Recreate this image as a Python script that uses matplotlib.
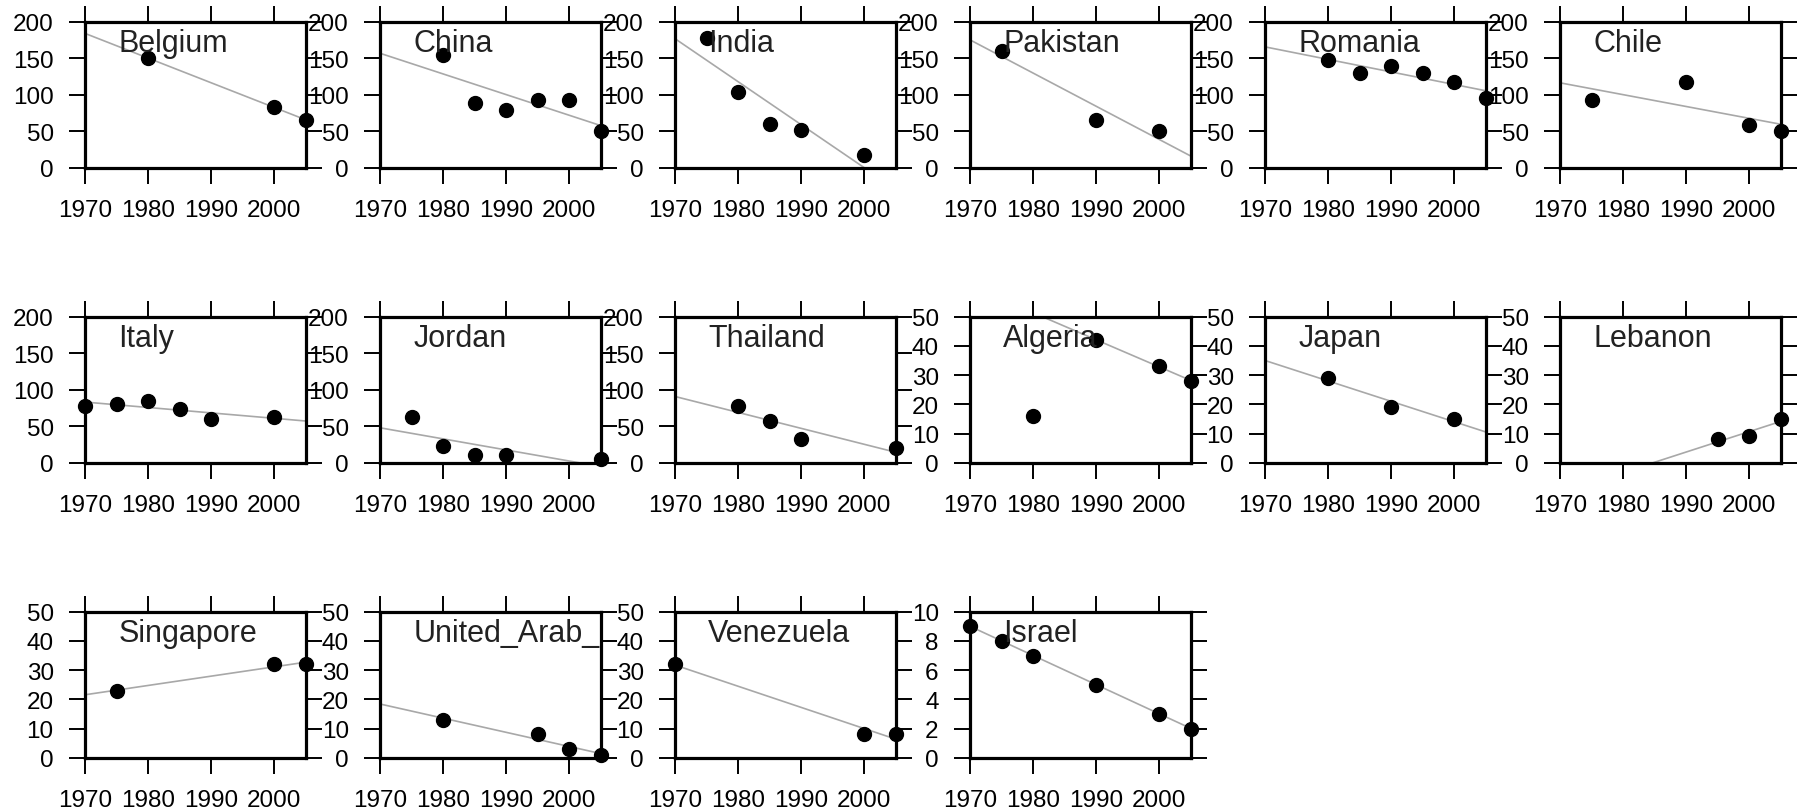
import numpy as np
import matplotlib
matplotlib.use("Agg")
import matplotlib.pyplot as plt

plt.rcParams["font.family"] = ["Liberation Sans", "DejaVu Sans"]

# one panel per country, in reading order
countries = ["Belgium", "China", "India", "Pakistan", "Romania", "Chile",
             "Italy", "Jordan", "Thailand", "Algeria", "Japan", "Lebanon",
             "Singapore", "United_Arab_", "Venezuela", "Israel"]

years = [
    [1980, 2000, 2005],
    [1980, 1985, 1990, 1995, 2000, 2005],
    [1975, 1980, 1985, 1990, 2000],
    [1975, 1990, 2000],
    [1980, 1985, 1990, 1995, 2000, 2005],
    [1975, 1990, 2000, 2005],
    [1970, 1975, 1980, 1985, 1990, 2000],
    [1975, 1980, 1985, 1990, 2005],
    [1980, 1985, 1990, 2005],
    [1980, 1990, 2000, 2005],
    [1980, 1990, 2000],
    [1995, 2000, 2005],
    [1975, 2000, 2005],
    [1980, 1995, 2000, 2005],
    [1970, 2000, 2005],
    [1970, 1975, 1980, 1990, 2000, 2005],
]

values = [
    [150, 83, 65],
    [155, 88, 79, 93, 93, 50],
    [178, 104, 60, 52, 18],
    [160, 65, 50],
    [147, 130, 140, 130, 118, 96],
    [93, 117, 59, 50],
    [78, 80, 85, 74, 60, 62],
    [62, 23, 10, 10, 5],
    [78, 57, 33, 20],
    [16, 42, 33, 28],
    [29, 19, 15],
    [8, 9, 15],
    [23, 32, 32],
    [13, 8, 3, 1],
    [32, 8, 8],
    [9, 8, 7, 5, 3, 2],
]

# y axis top and tick step per panel
ymax = [200] * 9 + [50] * 6 + [10]
ystep = [50] * 9 + [10] * 6 + [2]

# years left out of the trend fit
fit_skip = {"Algeria": [1980]}

W, H = 1805, 812
fig = plt.figure(figsize=(W / 100, H / 100), dpi=100)

for k, name in enumerate(countries):
    r, c = divmod(k, 6)
    left = 85 + 295 * c
    top = 22.7 + 295 * r
    ax = fig.add_axes([left / W, 1 - (top + 146) / H, 221 / W, 146 / H])

    x = np.array(years[k], dtype=float)
    y = np.array(values[k], dtype=float)
    keep = ~np.isin(x, fit_skip.get(name, []))
    slope, icpt = np.polyfit(x[keep], y[keep], 1)
    xs = np.array([1970, 2005])
    ax.plot(xs, slope * xs + icpt, color="#a8a8a8", lw=1.2, zorder=2)
    ax.plot(x, y, "o", color="black", ms=10, clip_on=False, zorder=3)

    ax.set_xlim(1970, 2005)
    ax.set_ylim(0, ymax[k])
    ax.set_xticks([1970, 1980, 1990, 2000])
    ax.set_yticks(np.arange(0, ymax[k] + 1, ystep[k]))
    for s in ax.spines.values():
        s.set_linewidth(2.3)
    ax.tick_params(direction="out", length=11.5, width=1.4,
                   top=True, right=True, labelsize=17.5)
    ax.tick_params(axis="y", pad=11)
    ax.tick_params(axis="x", pad=11)
    ax.text(0.15, 0.80, name, transform=ax.transAxes, fontsize=22,
            va="baseline", ha="left", color="#222222", zorder=4)

fig.savefig("out.png", dpi=100)
